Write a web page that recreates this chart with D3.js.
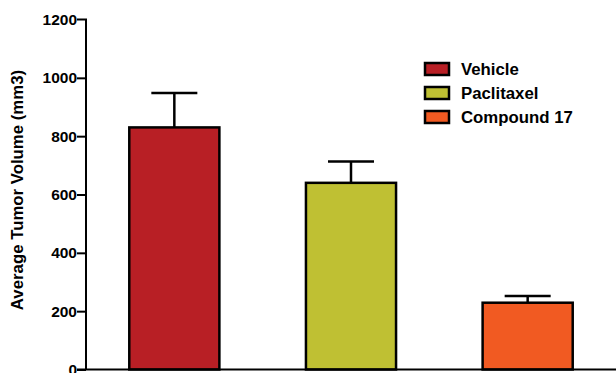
<!DOCTYPE html>
<html>
<head>
<meta charset="utf-8">
<script src="https://cdn.jsdelivr.net/npm/d3@7"></script>
<style>
  html, body { margin: 0; padding: 0; background: #fff; }
  svg { display: block; }
  text { font-family: "Liberation Sans", Arial, sans-serif; font-weight: bold; fill: #000; }
</style>
</head>
<body>
<svg id="chart" width="616" height="373"></svg>
<script>
// Tumor volume per treatment group (mean + SEM)
const groups = ["Vehicle", "Paclitaxel", "Compound 17"];
const means = [830, 640, 229];
const errors = [118, 73, 23];
const colors = ["#b81f25", "#bfc033", "#f15a22"];
const yTicks = [0, 200, 400, 600, 800, 1000, 1200];
const yTitle = "Average Tumor Volume (mm3)";

const svg = d3.select("#chart");
const plotLeft = 86, plotRight = 616, plotTop = 19.5, plotBottom = 369.5;

const x = d3.scaleBand().domain(groups).range([plotLeft, plotRight])
  .paddingInner(0.49).paddingOuter(0.245);
const y = d3.scaleLinear().domain([0, 1200]).range([plotBottom, plotTop]);

// Bars
svg.append("g").selectAll("rect").data(groups).join("rect")
  .attr("x", d => x(d))
  .attr("y", (d, i) => y(means[i]))
  .attr("width", x.bandwidth())
  .attr("height", (d, i) => y(0) - y(means[i]))
  .attr("fill", (d, i) => colors[i])
  .attr("stroke", "#000")
  .attr("stroke-width", 2.5);

// Error bars (upper only)
const capW = 46;
const eb = svg.append("g").attr("stroke", "#000").attr("stroke-width", 2.5);
groups.forEach((g, i) => {
  const cx = x(g) + x.bandwidth() / 2;
  eb.append("line").attr("x1", cx).attr("x2", cx)
    .attr("y1", y(means[i])).attr("y2", y(means[i] + errors[i]));
  eb.append("line").attr("x1", cx - capW / 2).attr("x2", cx + capW / 2)
    .attr("y1", y(means[i] + errors[i])).attr("y2", y(means[i] + errors[i]));
});

// Y axis
const yAxis = svg.append("g").attr("transform", `translate(${plotLeft},0)`)
  .call(d3.axisLeft(y).tickValues(yTicks).tickSize(9).tickPadding(0).tickFormat(d3.format("d")));
yAxis.select(".domain").attr("stroke", "#000").attr("stroke-width", 2).attr("d", `M-9,${plotTop}H0V${plotBottom}`);
yAxis.selectAll(".tick line").attr("stroke", "#000").attr("stroke-width", 2);
yAxis.selectAll(".tick text").style("font-size", "15.5px").attr("fill", "#000");
yAxis.selectAll(".tick").filter(d => d === 1200).select("line").remove();

// X baseline
svg.append("line").attr("x1", plotLeft - 9).attr("x2", plotRight)
  .attr("y1", plotBottom).attr("y2", plotBottom)
  .attr("stroke", "#000").attr("stroke-width", 2);

// Y axis title
svg.append("text")
  .attr("transform", `translate(23,190) rotate(-90)`)
  .attr("text-anchor", "middle")
  .style("font-size", "16.8px")
  .text(yTitle);

// Legend
const legend = svg.append("g").attr("transform", "translate(425,63)");
groups.forEach((g, i) => {
  const row = legend.append("g").attr("transform", `translate(0,${i * 24})`);
  row.append("rect").attr("width", 24).attr("height", 12)
    .attr("fill", colors[i]).attr("stroke", "#000").attr("stroke-width", 2.5);
  row.append("text").attr("x", 36).attr("y", 12)
    .style("font-size", "16.8px").text(g);
});
</script>
</body>
</html>
